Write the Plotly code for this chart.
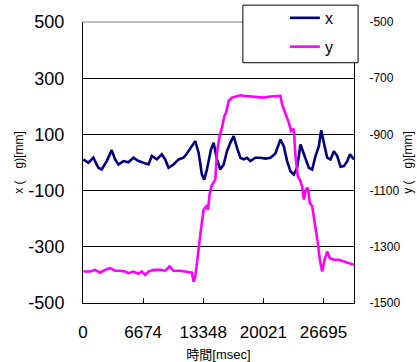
import plotly.graph_objects as go

# time [msec]
t_x = [37, 593, 1149, 1706, 2076, 2633, 3189, 3560, 3931, 4487, 5043, 5599, 6156, 6712, 7268,
       7639, 8195, 8751, 9122, 9493, 10049, 10605, 11161, 11532, 12088, 12459, 12830, 13200,
       13460, 13757, 14202, 14498, 14869, 15240, 15611, 15981, 16352, 16723, 17094, 17465,
       17835, 18206, 18577, 19133, 19689, 20246, 20802, 21358, 21914, 22285, 22656, 23027,
       23397, 23768, 24139, 24510, 25066, 25437, 25807, 26178, 26438, 26734, 27105, 27476,
       27847, 28217, 28588, 28959, 29330, 29627, 30071]
x_vals = [11, -1, 17, -19, -25, 5, 44, 11, -7, 5, 1, 17, 5, -1, -7, 23, 11, 29, 11, -19,
          -7, 11, 17, 32, 58, 76, 35, -43, -61, -25, 46, 70, 11, -25, -7, 40, 70, 94, 52, 17,
          11, 17, 5, 17, 17, 14, 17, 32, 82, 58, 5, -31, -43, -19, 64, 29, -19, -25, 23, 58,
          115, 70, 17, 11, 40, 23, -15, -13, 5, 29, 11]

t_y = [37, 779, 1335, 1891, 2447, 3003, 3560, 4116, 4672, 5043, 5599, 6156, 6526, 6897, 7268,
       7824, 8565, 9122, 9604, 10049, 10790, 11532, 12088, 12273, 12459, 12644, 12830, 13089,
       13386, 13683, 13868, 14053, 14239, 14498, 14684, 14869, 15166, 15425, 15685, 15870,
       16167, 16538, 16908, 17465, 17835, 18577, 19318, 20060, 20802, 21543, 21914, 22099,
       22470, 22841, 23100, 23397, 23582, 23842, 24065, 24324, 24510, 24732, 24955, 25177,
       25437, 25622, 25882, 26067, 26290, 26549, 26809, 27105, 27402, 27847, 28403, 28959,
       29515, 30071]
y_vals = [-1388, -1388, -1382, -1392, -1382, -1376, -1385, -1385, -1388, -1394, -1388, -1396,
          -1388, -1400, -1388, -1382, -1382, -1385, -1370, -1385, -1385, -1388, -1392, -1424,
          -1406, -1358, -1299, -1239, -1168, -1156, -1168, -1114, -1085, -1073, -1061, -965,
          -906, -876, -835, -823, -781, -769, -765, -761, -763, -765, -765, -769, -765, -763,
          -763, -793, -823, -858, -888, -880, -977, -1049, -1061, -1085, -1132, -1096, -1090,
          -1144, -1156, -1192, -1239, -1287, -1346, -1388, -1346, -1317, -1341, -1346, -1346,
          -1352, -1356, -1364]

x_tickvals = [0, 6674, 13348, 20021, 26695]
x_ticktext = ["0", "6674", "13348", "20021", "26695"]
y1_tickvals = [500, 300, 100, -100, -300, -500]
y1_ticktext = ["500", "300", "100", "-100", "-300", "-500"]
y2_tickvals = [-500, -700, -900, -1100, -1300, -1500]
y2_ticktext = ["-500", "-700", "-900", "-1100", "-1300", "-1500"]

FONT = "Liberation Sans, Arial, sans-serif"
CJK = "Liberation Sans, Noto Sans CJK JP, sans-serif"

fig = go.Figure()
fig.add_trace(go.Scatter(x=t_x, y=x_vals, mode="lines", name="x", legendgroup="a",
                         line=dict(color="#000080", width=2.6)))
fig.add_trace(go.Scatter(x=t_y, y=y_vals, mode="lines", name="y", yaxis="y2", legendgroup="b",
                         line=dict(color="#FF00FF", width=2.6)))

fig.update_layout(
    width=417, height=362,
    margin=dict(l=83, r=63, t=22, b=59, autoexpand=False),
    paper_bgcolor="white", plot_bgcolor="white",
    font=dict(family=FONT, color="black"),
    xaxis=dict(range=[0, 30080], tickvals=x_tickvals, ticktext=x_ticktext,
               ticks="inside", ticklen=5, tickcolor="black", automargin=False,
               showgrid=False, zeroline=False, showline=True, linecolor="black",
               linewidth=1, tickfont=dict(size=17), ticklabelstandoff=14,
               title=dict(text="時間[msec]", font=dict(family=CJK, size=13), standoff=8)),
    yaxis=dict(range=[-500, 500], tickvals=y1_tickvals, ticktext=y1_ticktext,
               ticks="", showgrid=True, gridcolor="black", gridwidth=1, automargin=False,
               zeroline=False, showline=True, linecolor="black", linewidth=1,
               tickfont=dict(size=18), ticklabelstandoff=14,
               title=dict(text="x (　g)[mm]", font=dict(family=CJK, size=12), standoff=2)),
    yaxis2=dict(range=[-1500, -500], tickvals=y2_tickvals, ticktext=y2_ticktext,
                overlaying="y", side="right", ticks="", showgrid=False, automargin=False,
                zeroline=False, showline=True, linecolor="black", linewidth=1,
                tickfont=dict(size=12), ticklabelstandoff=12,
                title=dict(text="y (　g)[mm]", font=dict(family=CJK, size=12), standoff=4)),
    showlegend=True,
    legend=dict(x=0.745, y=1.075, xanchor="left", yanchor="top",
                bgcolor="rgba(0,0,0,0)", borderwidth=0,
                font=dict(size=16), tracegroupgap=5),
    shapes=[
        dict(type="line", xref="paper", yref="paper", x0=0, x1=1, y0=1, y1=1,
             line=dict(color="#808080", width=1)),
        dict(type="rect", xref="paper", yref="paper", x0=0.59, x1=1.015, y0=0.855, y1=1.06,
             fillcolor="white", line=dict(color="black", width=1), layer="above"),
    ],
)

fig.write_html("out.html")
